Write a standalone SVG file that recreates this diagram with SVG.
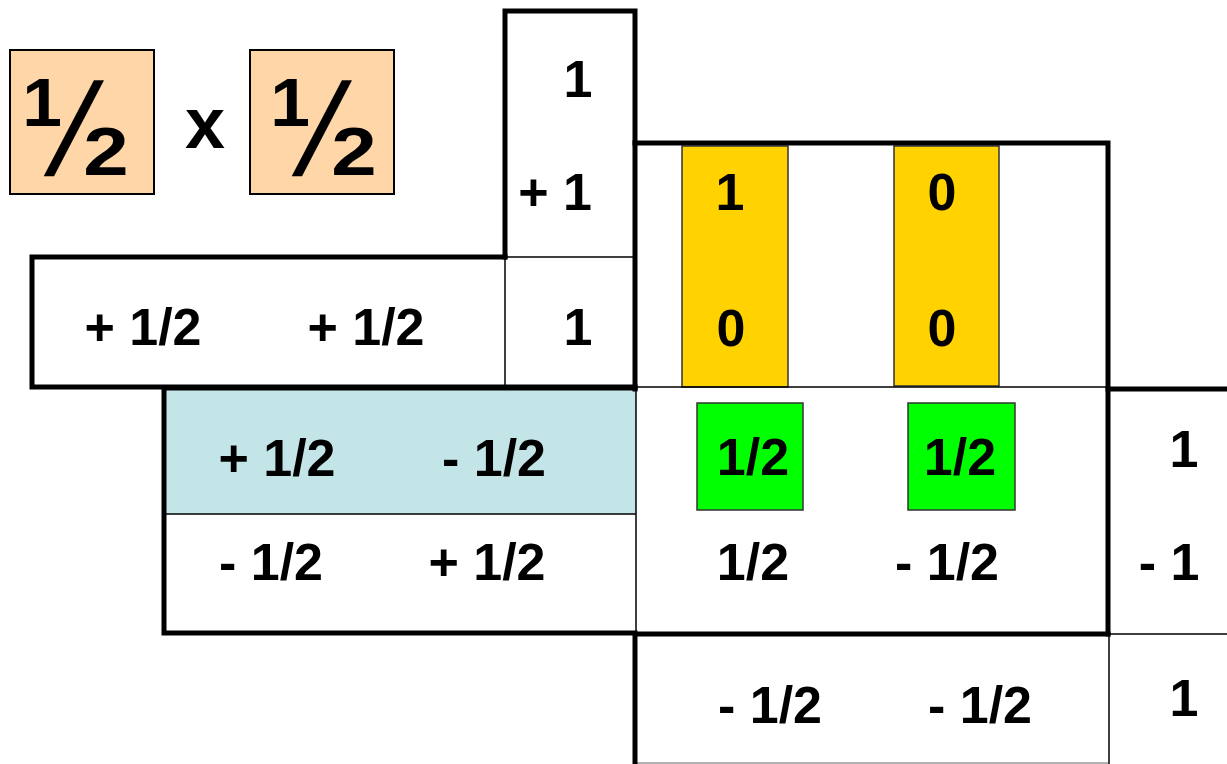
<svg xmlns="http://www.w3.org/2000/svg" width="1227" height="764" viewBox="0 0 1227 764">
<style>
.t{font-family:"Liberation Sans",Arial,sans-serif;font-weight:bold;font-size:52px;fill:#000;text-anchor:middle}
.f{font-size:68px}
.sl{font-size:131px;text-anchor:start;font-weight:normal}
.thick{stroke:#000;stroke-width:5;fill:none;stroke-linecap:square}
.thin{stroke:#000;stroke-width:1.5;fill:none}
.peach{fill:#FFD6A8;stroke:#000;stroke-width:2}
.gold{fill:#FFD200;stroke:#333;stroke-width:1.5}
.green{fill:#00FF00;stroke:#333;stroke-width:1.5}
</style>
<rect width="1227" height="764" fill="#fff"/>
<g id="title">
<rect class="peach" x="10" y="50" width="144" height="144"/>
<rect class="peach" x="250" y="50" width="144" height="144"/>
<g id="half1">
<text class="t f" transform="translate(42,126) scale(1.05,1)" x="0" y="0">1</text>
<text class="t sl" transform="translate(44,175) skewX(-14)" x="0" y="0">/</text>
<text class="t f" transform="translate(106,175) scale(1.2,1)" x="0" y="0">2</text>
</g>
<text class="t" x="205" y="148" style="font-size:72px">x</text>
<g id="half2">
<text class="t f" transform="translate(290,126) scale(1.05,1)" x="0" y="0">1</text>
<text class="t sl" transform="translate(292,175) skewX(-14)" x="0" y="0">/</text>
<text class="t f" transform="translate(354,175) scale(1.2,1)" x="0" y="0">2</text>
</g>
</g>
<g id="fills">
<rect x="164" y="388" width="472" height="126" fill="#C4E5E8"/>
<rect class="gold" x="682" y="146" width="106" height="241"/>
<rect class="gold" x="894" y="146" width="105" height="240"/>
<rect class="green" x="697" y="403" width="106" height="107"/>
<rect class="green" x="908" y="403" width="107" height="107"/>
</g>
<g id="grid">
<path class="thin" d="M505 257H635M505 257V387M164 514H636M636 387V634M635 387H1108M1108 634H1227M1109 634V764"/>
<path d="M635 763H1108" stroke="#999" stroke-width="1.5"/>
<path class="thick" d="M505 257V11H635V389"/>
<path class="thick" d="M505 257H32V387H635"/>
<path class="thick" d="M635 143H1108V634"/>
<path class="thick" d="M164 388H635M164 388V633H635"/>
<path class="thick" d="M1108 389H1227"/>
<path class="thick" d="M635 634H1108M635 634V764"/>
</g>
<g id="column">
<text class="t" x="578" y="97">1</text>
<text class="t" x="555" y="210">+ 1</text>
<text class="t" x="578" y="345">1</text>
</g>
<g id="row">
<text class="t" x="143" y="345">+ 1/2</text>
<text class="t" x="366" y="345">+ 1/2</text>
</g>
<g id="matrix">
<text class="t" x="277" y="476">+ 1/2</text>
<text class="t" x="494" y="476">- 1/2</text>
<text class="t" x="271" y="580">- 1/2</text>
<text class="t" x="487" y="580">+ 1/2</text>
</g>
<g id="results">
<text class="t" x="730" y="210">1</text>
<text class="t" x="731" y="346">0</text>
<text class="t" x="942" y="210">0</text>
<text class="t" x="942" y="346">0</text>
<text class="t" x="753" y="475">1/2</text>
<text class="t" x="960" y="475">1/2</text>
<text class="t" x="753" y="580">1/2</text>
<text class="t" x="947" y="580">- 1/2</text>
<text class="t" x="770" y="723">- 1/2</text>
<text class="t" x="980" y="723">- 1/2</text>
</g>
<g id="rightcol">
<text class="t" x="1184" y="467">1</text>
<text class="t" x="1169" y="580">- 1</text>
<text class="t" x="1184" y="716">1</text>
</g>
</svg>
